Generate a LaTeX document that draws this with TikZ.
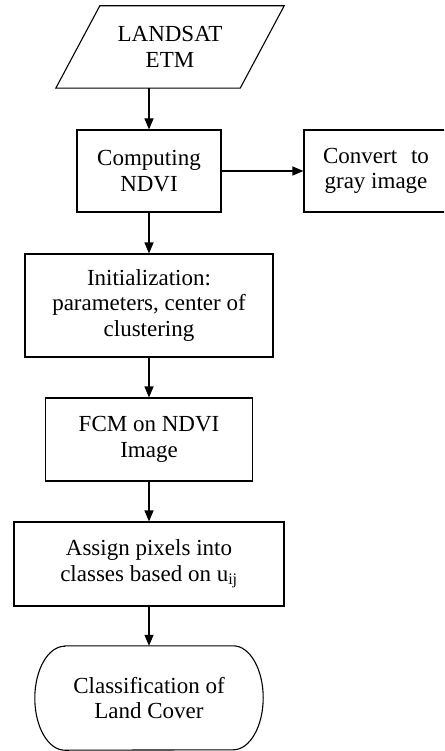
\documentclass[tikz,border=0pt]{standalone}
\usepackage{fontspec}
\setmainfont{Liberation Serif}
\usetikzlibrary{arrows.meta}
\begin{document}
\begin{tikzpicture}[x=1pt,y=-1pt,
  every node/.style={font=\fontsize{23}{25.5}\selectfont, align=center, inner sep=0pt},
  box/.style={draw, line width=1.1pt, minimum width=#1},
  outline/.style={line width=1.1pt},
  flow/.style={line width=1.1pt, -{Triangle[length=11pt,width=9pt]}}]
\useasboundingbox (0,0) rectangle (444,751);
\clip (0,0) rectangle (444,751);

% input data (parallelogram drawn around a borderless node)
\node (src) [minimum width=184, minimum height=82] at (170,47) {LANDSAT\\ETM};
\draw[outline] ([xshift=22]src.north west) -- ([xshift=22]src.north east)
  -- ([xshift=-22]src.south east) -- ([xshift=-22]src.south west) -- cycle;

% processing steps
\node (ndvi) [box=144, minimum height=82] at (149,171) {Computing\\NDVI};
\node (gray) [box=144, minimum height=82] at (376,171) {Convert\hspace{0.6em}to\\gray image};
\node (init) [box=248, minimum height=103] at (149,305.5) {Initialization:\\parameters, center of\\clustering};
\node (fcm)  [box=207, minimum height=83] at (149,439.5) {FCM on NDVI\\Image};
\node (assign) [box=270, minimum height=84] at (149,564) {Assign pixels into\\classes based on u\textsubscript{ij}};

% terminal with half-elliptical ends
\node (out) [minimum width=228, minimum height=104] at (149,698) {Classification of\\Land Cover};
\draw[outline] ([xshift=30]out.north west) -- ([xshift=-30]out.north east)
  arc[start angle=90, end angle=-90, x radius=30pt, y radius=52pt]
  -- ([xshift=30]out.south west)
  arc[start angle=270, end angle=90, x radius=30pt, y radius=52pt] -- cycle;

% connectors
\draw[flow] (src.south -| ndvi.north) -- (ndvi.north);
\draw[flow] (ndvi.east) -- (gray.west);
\draw[flow] (ndvi.south) -- (init.north);
\draw[flow] (init.south) -- (fcm.north);
\draw[flow] (fcm.south) -- (assign.north);
\draw[flow] (assign.south) -- (out.north);
\end{tikzpicture}
\end{document}
